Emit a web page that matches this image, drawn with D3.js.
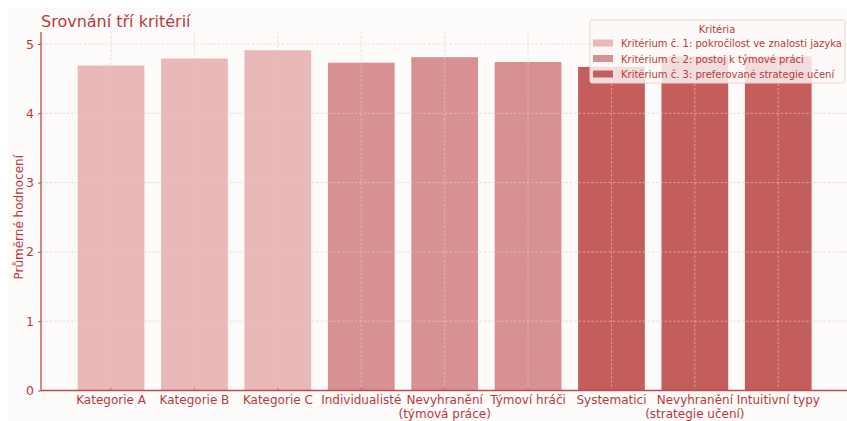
<!DOCTYPE html>
<html><head><meta charset="utf-8">
<script src="https://cdn.jsdelivr.net/npm/d3@7"></script>
<style>
html,body{margin:0;padding:0;background:#ffffff;}
svg{display:block;font-family:"DejaVu Sans",sans-serif;}
</style></head>
<body>
<svg id="chart" width="847" height="421"></svg>
<script>
const categories = ["Kategorie A","Kategorie B","Kategorie C","Individualisté","Nevyhranění\n(týmová práce)","Týmoví hráči","Systematici","Nevyhranění\n(strategie učení)","Intuitivní typy"];
const values = [4.69,4.79,4.91,4.73,4.81,4.74,4.67,4.82,4.82];
const groupOf = [0,0,0,1,1,1,2,2,2];
const criteria = ["Kritérium č. 1: pokročilost ve znalosti jazyka","Kritérium č. 2: postoj k týmové práci","Kritérium č. 3: preferované strategie učení"];
const colors = ["#e8b9b8","#d79192","#c35e5d"];
const yTicks = [0,1,2,3,4,5];

const svg = d3.select("#chart");
const textColor = "#b8393c";
const axisColor = "#c0484a";

// figure background
svg.append("rect").attr("x",8).attr("y",8).attr("width",839).attr("height",413).attr("fill","#fefbfb");

const padL = 41, padT = 44, baseY = 390.5;
const step = 83.4;
// matplotlib-like x limits: -0.84 .. 8.84
const x = d3.scaleBand().domain(categories)
  .range([padL + 0.34*step, padL + 0.34*step + 9*step])
  .paddingInner(0.2).paddingOuter(0.1);
const y = d3.scaleLinear().domain([0,5]).range([baseY, padT]);

// bars
svg.append("g").selectAll("rect").data(categories).join("rect")
  .attr("x", d => x(d))
  .attr("y", (d,i) => y(values[i]))
  .attr("width", x.bandwidth())
  .attr("height", (d,i) => baseY - y(values[i]))
  .attr("fill", (d,i) => colors[groupOf[i]]);

// grid (on top, dashed)
const gridColor = "#f2c6c8";
const grid = svg.append("g");
grid.selectAll("line.h").data(yTicks.slice(1)).join("line")
  .attr("x1", padL).attr("x2", 847)
  .attr("y1", d => y(d)).attr("y2", d => y(d))
  .attr("stroke",gridColor).attr("stroke-width",0.9).attr("stroke-dasharray","2.5,1.8").attr("opacity",0.7);
grid.selectAll("line.v").data(categories).join("line")
  .attr("x1", d => x(d)+x.bandwidth()/2).attr("x2", d => x(d)+x.bandwidth()/2)
  .attr("y1", padT-12).attr("y2", baseY)
  .attr("stroke",gridColor).attr("stroke-width",0.9).attr("stroke-dasharray","2.5,1.8").attr("opacity",0.7);

// axes
const yAxis = svg.append("g").attr("transform",`translate(${padL},0)`)
  .call(d3.axisLeft(y).tickValues(yTicks).tickFormat(d3.format("d")).tickSize(3).tickPadding(4));
yAxis.select(".domain").attr("d",`M0,${baseY}V${padT-12}`).attr("stroke",axisColor).attr("stroke-width",1.3);
yAxis.selectAll(".tick line").attr("stroke",axisColor);
yAxis.selectAll(".tick text").attr("fill",textColor).attr("font-size",12.5).attr("font-family","DejaVu Sans");

const xAxis = svg.append("g").attr("transform",`translate(0,${baseY})`)
  .call(d3.axisBottom(x).tickSize(-3).tickPadding(6).tickFormat(""));
xAxis.select(".domain").attr("d",`M${padL},0H847`).attr("stroke",axisColor).attr("stroke-width",1.3);
xAxis.selectAll(".tick line").attr("stroke",axisColor).attr("opacity",0.6);
xAxis.selectAll(".tick").each(function(d){
  const lines = d.split("\n");
  const t = d3.select(this).append("text").attr("fill",textColor).attr("font-size",12)
    .attr("text-anchor","middle").attr("font-family","DejaVu Sans");
  lines.forEach((ln,k) => t.append("tspan").attr("x",0).attr("y",13 + k*14.5).text(ln));
});

// title
svg.append("text").attr("x",41).attr("y",27).attr("fill",textColor)
  .attr("font-size",16).text("Srovnání tří kritérií");

// y label
svg.append("text").attr("transform",`translate(23,${(padT+baseY)/2}) rotate(-90)`)
  .attr("text-anchor","middle").attr("fill",textColor).attr("font-size",12)
  .text("Průměrné hodnocení");

// legend
const lg = svg.append("g").attr("transform","translate(590,20)");
lg.append("rect").attr("width",255).attr("height",63).attr("rx",2)
  .attr("fill","#fdf8f8").attr("fill-opacity",0.82).attr("stroke","#eed2d2");
lg.append("text").attr("x",127).attr("y",13).attr("text-anchor","middle")
  .attr("fill",textColor).attr("font-size",10).text("Kritéria");
criteria.forEach((c,i) => {
  const yy = 23.5 + i*15.5;
  lg.append("rect").attr("x",3).attr("y",yy-4).attr("width",20).attr("height",7).attr("fill",colors[i]);
  lg.append("text").attr("x",31).attr("y",yy+3.5).attr("fill",textColor).attr("font-size",10).text(c);
});
</script>
</body></html>
